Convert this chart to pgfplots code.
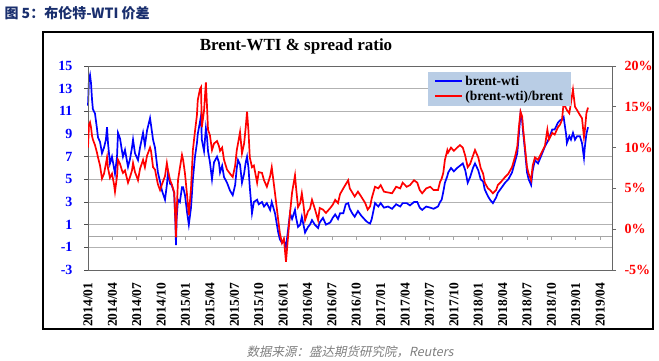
\documentclass[border=0pt]{standalone}
\usepackage{pgfplots}
\pgfplotsset{compat=1.18}
\usepackage{pgfplotstable}
\usepackage{fontspec}
\setmainfont{Liberation Serif}
\newfontfamily\cjk{Noto Sans CJK SC}
\newfontfamily\cjksl{Noto Sans CJK SC}[FakeSlant=0.2]
\definecolor{navy}{HTML}{1A2F6E}
\definecolor{legbg}{HTML}{B9CDE5}
\definecolor{lineblue}{RGB}{0,0,255}
\definecolor{linered}{RGB}{255,0,0}
\pgfplotstableread{
m blue red
0 11.5 10.0
0.12 13.8 12.8
0.25 14.2 13.1
0.37 13.5 12.5
0.5 12.0 11.4
0.6 11.2 11.0
0.86 10.8 10.3
1.1 9.5 9.4
1.23 8.7 8.8
1.48 8.3 7.8
1.72 7.3 6.2
1.97 7.8 6.8
2.2 8.5 8.0
2.34 9.6 8.8
2.46 8.2 7.5
2.7 6.4 6.3
2.95 7.0 6.8
3.2 6.0 5.5
3.32 5.5 4.6
3.57 7.0 6.5
3.69 9.1 8.5
3.94 8.6 8.0
4.18 7.5 7.2
4.3 7.0 6.9
4.55 7.6 7.2
4.92 6.1 5.7
5.17 6.8 6.4
5.41 7.8 7.2
5.54 8.5 8.1
5.78 7.3 7.0
6.15 6.7 6.0
6.4 7.8 7.4
6.77 9.1 8.5
7.0 8.0 7.6
7.26 9.3 9.0
7.63 10.4 10.0
7.75 9.8 9.6
8.0 8.5 7.6
8.24 7.8 7.3
8.6 5.6 5.5
8.86 4.8 4.8
9.1 4.0 5.5
9.47 3.2 6.5
9.7 4.5 8.1
9.84 5.6 7.2
10.1 4.6 6.0
10.3 4.5 5.5
10.6 3.8 4.5
10.76 1.0 1.0
10.82 -0.8 -1.0
10.9 1.5 2.0
11.07 3.2 6.0
11.3 3.0 7.5
11.56 4.3 9.1
11.7 4.3 8.5
11.93 3.6 6.8
12.2 2.0 4.0
12.4 1.0 1.7
12.67 2.5 5.0
12.9 5.0 9.7
13.16 7.0 12.0
13.4 8.2 14.0
13.5 9.0 15.8
13.78 10.1 17.2
13.9 10.6 17.4
14.0 8.5 12.5
14.27 7.5 14.5
14.5 9.5 18.0
14.64 8.7 15.0
14.76 7.5 12.2
15.0 6.5 11.5
15.25 5.0 9.7
15.5 6.5 10.5
15.87 7.0 10.8
16.1 6.5 10.2
16.24 5.6 9.6
16.5 6.2 10.0
16.73 5.2 8.5
17.1 4.7 7.3
17.47 4.0 6.8
17.8 3.6 6.4
18.1 4.5 7.8
18.3 6.0 9.7
18.45 6.7 10.5
18.7 6.3 11.9
18.94 4.7 9.3
19.2 5.5 10.5
19.4 6.5 12.5
19.56 7.0 14.4
19.74 6.0 12.0
19.9 4.3 8.8
20.17 2.0 7.6
20.4 3.0 7.8
20.8 3.2 5.7
21.0 2.8 7.0
21.4 3.0 6.9
21.65 2.6 6.0
22.0 2.9 5.2
22.4 2.3 6.5
22.6 3.0 7.6
23.0 2.0 4.4
23.4 0.3 1.1
23.6 -0.3 -0.5
23.86 -0.6 -1.7
24.1 -0.4 -1.2
24.35 -1.0 -4.0
24.6 0.5 -1.0
24.85 2.0 2.0
25.1 1.5 4.5
25.46 2.3 6.6
25.6 1.6 5.0
25.83 0.8 2.7
26.1 1.0 3.2
26.3 1.7 4.4
26.5 1.0 3.0
26.7 0.3 1.1
27.06 0.8 2.2
27.3 1.0 2.5
27.55 1.4 3.6
27.9 1.0 2.5
28.3 0.7 1.1
28.5 1.2 2.6
28.9 1.6 2.4
29.27 1.0 2.0
29.8 1.2 2.6
30.1 1.6 3.0
30.4 1.9 3.6
30.75 1.5 3.2
31.0 2.0 4.3
31.4 2.0 5.0
31.7 2.8 5.5
32.0 2.9 6.0
32.2 2.4 5.0
32.5 2.0 4.5
32.8 1.7 4.0
33.2 2.2 4.6
33.6 1.8 4.0
34.1 1.4 3.2
34.4 1.2 2.4
34.7 1.1 2.8
34.9 1.5 3.8
35.3 2.9 5.2
35.7 2.6 5.0
36.0 2.9 5.4
36.4 2.5 4.6
36.9 2.6 4.5
37.4 2.4 4.4
37.9 2.8 5.2
38.4 2.6 5.0
38.7 2.9 5.7
39.2 2.9 5.2
39.6 2.7 5.4
40.1 3.0 6.0
40.5 3.0 5.7
40.8 2.5 4.8
41.1 2.3 4.4
41.6 2.6 5.0
42.1 2.5 5.2
42.5 2.4 4.8
43.05 2.6 4.8
43.3 3.0 5.8
43.5 3.2 6.2
43.7 3.9 6.9
43.9 4.7 8.5
44.2 5.3 9.7
44.3 5.6 9.4
44.65 6.0 10.0
45.0 5.7 9.6
45.4 6.0 10.0
45.75 6.2 10.3
46.1 6.4 10.0
46.4 5.8 9.0
46.7 4.7 7.6
47.0 5.2 8.0
47.35 6.0 9.0
47.6 6.4 9.7
48.0 5.8 8.8
48.3 5.0 7.5
48.6 4.8 6.8
48.8 4.1 5.7
49.2 3.5 5.0
49.45 3.2 4.8
49.8 2.9 4.4
50.2 3.4 4.8
50.4 3.8 5.4
50.8 4.2 5.8
51.3 4.7 6.4
51.7 5.0 6.8
52.15 5.6 7.6
52.5 6.5 8.8
52.8 7.3 10.1
53.0 9.0 12.5
53.2 10.8 14.4
53.4 10.2 13.8
53.5 9.3 12.5
53.75 7.5 10.0
54.0 5.6 7.6
54.2 5.0 6.8
54.5 4.5 6.0
54.7 5.8 7.8
54.97 6.7 8.8
55.35 6.4 8.5
55.7 7.0 9.2
56.2 7.9 10.2
56.5 8.3 12.2
56.7 8.6 11.0
57.1 9.4 11.8
57.4 9.4 11.6
57.8 10.0 12.5
58.05 10.2 12.8
58.3 10.3 13.4
58.5 10.5 15.5
58.8 9.0 14.8
58.9 8.2 14.6
59.2 8.8 14.2
59.4 8.5 15.5
59.65 9.1 17.1
59.9 8.5 15.0
60.15 8.8 14.6
60.5 8.8 14.0
60.76 8.2 13.6
61.0 6.9 11.3
61.1 7.8 12.0
61.3 9.0 14.2
61.5 9.6 14.9
}\data
\begin{document}
\begin{tikzpicture}[x=1pt,y=1pt]
\useasboundingbox (0,0) rectangle (659,361);
\fill[white] (0,0) rectangle (659,361);
\node[anchor=west, text=navy, font=\cjk\bfseries\fontsize{14}{14}\selectfont] at (1,348) {图 5：布伦特-WTI 价差};
\draw[black, line width=1.5pt] (43,32) rectangle (653,329);
\node[font=\fontsize{17}{17}\selectfont\bfseries] at (296,315) {Brent-WTI \& spread ratio};
\node[text=gray, font=\cjksl\fontsize{12.5}{13}\selectfont] at (350,9) {数据来源：盛达期货研究院，Reuters};
\begin{axis}[
  at={(88pt,91pt)}, anchor=south west, scale only axis,
  width=524pt, height=204pt,
  xmin=0, xmax=64.45, ymin=-3, ymax=15,
  axis x line=middle, axis y line=left,
  x axis line style={-, draw=gray!70, line width=0.9pt},
  y axis line style={-, draw=black!70, line width=0.9pt},
  xtick={0,3,...,63}, xticklabels={},
  x tick style={gray!70, line width=0.8pt},
  xtick align=outside,
  ytick={-3,-1,...,15},
  yticklabels={-3,-1,1,3,5,7,9,11,13,15},
  ytick align=outside,
  y tick style={black!70, line width=0.8pt},
  major tick length=4pt,
  ymajorgrids, grid style={gray!60, line width=0.9pt},
  yticklabel shift=8pt,
  yticklabel style={text=lineblue, font=\fontsize{14}{14}\selectfont\bfseries},
  clip=false,
]
\addplot[lineblue, line width=1.7pt, no marks] table[x=m, y=blue]{\data};
\end{axis}
\begin{axis}[
  at={(88pt,91pt)}, anchor=south west, scale only axis,
  width=524pt, height=204pt,
  xmin=0, xmax=64.45, ymin=-5, ymax=20,
  axis line style={draw=gray!80!black, line width=0.9pt},
  ytick pos=right, ytick align=outside,
  ytick={-5,0,...,20},
  yticklabels={-5\%,0\%,5\%,10\%,15\%,20\%},
  y tick style={gray!80!black, line width=0.8pt},
  major tick length=4pt,
  yticklabel shift=5pt,
  xtick pos=bottom,
  xtick={0,3,...,63},
  xticklabels={2014/01,2014/04,2014/07,2014/10,2015/01,2015/04,2015/07,2015/10,2016/01,2016/04,2016/07,2016/10,2017/01,2017/04,2017/07,2017/10,2018/01,2018/04,2018/07,2018/10,2019/01,2019/04},
  x tick style={draw=none},
  xticklabel shift=9pt,
  xticklabel style={rotate=90, anchor=east, font=\fontsize{13.5}{13.5}\selectfont\bfseries},
  yticklabel style={text=linered, font=\fontsize{14}{14}\selectfont\bfseries},
  legend style={at={(0.649,0.97)}, anchor=north west, fill=legbg, draw=none,
    font=\fontsize{13.5}{14}\selectfont\bfseries, inner xsep=6pt, inner ysep=2pt},
  legend cell align=left,
]
\addlegendimage{legend image code/.code={\draw[lineblue, line width=2pt] (0pt,0.5pt) -- (27pt,0.5pt);}}
\addlegendentry{brent-wti}
\addlegendimage{legend image code/.code={\draw[linered, line width=2pt] (0pt,0.5pt) -- (27pt,0.5pt);}}
\addlegendentry{(brent-wti)/brent}
\addplot[linered, line width=1.7pt, no marks, forget plot] table[x=m, y=red]{\data};
\end{axis}
\end{tikzpicture}
\end{document}
